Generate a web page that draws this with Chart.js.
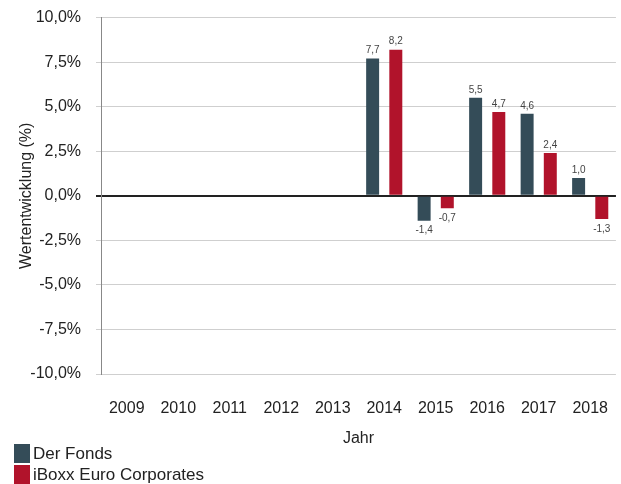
<!DOCTYPE html>
<html>
<head>
<meta charset="utf-8">
<script src="https://cdn.jsdelivr.net/npm/chart.js@4.4.1/dist/chart.umd.min.js"></script>
<style>
  body { margin: 0; background: #fff; font-family: "Liberation Sans", Arial, sans-serif; overflow: hidden; }
  #wrap { position: absolute; left: 0; top: -7px; width: 625px; height: 458px; }
  #legende { position: absolute; left: 14px; top: 443px; font-size: 17px; color: #222; }
  .eintrag { display: flex; align-items: center; height: 21px; }
  .kasten { width: 16px; height: 19px; margin-right: 3px; }
</style>
</head>
<body>
<div id="wrap"><canvas id="grafico"></canvas></div>
<div id="legende">
  <div class="eintrag"><span class="kasten" style="background:#344c58"></span>Der Fonds</div>
  <div class="eintrag"><span class="kasten" style="background:#b1132b"></span>iBoxx Euro Corporates</div>
</div>
<script>
// --- DATEN ---
const jahre = ['2009', '2010', '2011', '2012', '2013', '2014', '2015', '2016', '2017', '2018'];
const werteFonds = [null, null, null, null, null, 7.7, -1.4, 5.5, 4.6, 1.0];
const werteIboxx = [null, null, null, null, null, 8.2, -0.7, 4.7, 2.4, -1.3];
const yTicks = [-10, -7.5, -5, -2.5, 0, 2.5, 5, 7.5, 10];

const formatDE = (v, d) => v.toFixed(d).replace('.', ',');

// Werte über/unter den Balken schreiben
const wertLabels = {
    id: 'wertLabels',
    afterDatasetsDraw(chart) {
        const ctx = chart.ctx;
        ctx.save();
        ctx.font = '10px "Liberation Sans", Arial, sans-serif';
        ctx.fillStyle = '#444';
        ctx.textAlign = 'center';
        chart.data.datasets.forEach((ds, i) => {
            chart.getDatasetMeta(i).data.forEach((bar, j) => {
                const v = ds.data[j];
                if (v === null) return;
                if (v >= 0) {
                    ctx.textBaseline = 'bottom';
                    ctx.fillText(formatDE(v, 1), bar.x, bar.y - 3);
                } else {
                    ctx.textBaseline = 'top';
                    ctx.fillText(formatDE(v, 1), bar.x, bar.y + 5);
                }
            });
        });
        ctx.restore();
    }
};

const schrift = { size: 16, family: '"Liberation Sans", Arial' };

const ctx = document.getElementById('grafico').getContext('2d');
new Chart(ctx, {
    type: 'bar',
    data: {
        labels: jahre,
        datasets: [
            { label: 'Der Fonds', data: werteFonds, backgroundColor: '#344c58' },
            { label: 'iBoxx Euro Corporates', data: werteIboxx, backgroundColor: '#b1132b' }
        ]
    },
    options: {
        responsive: true,
        maintainAspectRatio: false,
        animation: false,
        categoryPercentage: 0.9,
        barPercentage: 0.56,
        layout: { padding: { top: 3, right: 0, left: 0, bottom: 0 } },
        plugins: {
            legend: { display: false },
            tooltip: { enabled: false }
        },
        scales: {
            x: {
                grid: { display: false },
                border: { display: false },
                ticks: { color: '#222', font: schrift, padding: 17 },
                title: { display: true, text: 'Jahr', color: '#222', font: schrift, padding: { top: 0, bottom: 3 } },
                afterFit: (axis) => { axis.height = 77; }
            },
            y: {
                min: -10,
                max: 10,
                afterBuildTicks: (axis) => { axis.ticks = yTicks.map(v => ({ value: v })); },
                grid: {
                    color: (c) => c.tick && c.tick.value === 0 ? '#222' : '#cfcfcf',
                    lineWidth: (c) => c.tick && c.tick.value === 0 ? 2 : 1,
                    tickLength: 5
                },
                border: { display: true, color: '#888', width: 1 },
                ticks: {
                    color: '#222',
                    padding: 15,
                    font: schrift,
                    callback: (v) => formatDE(v, 1) + '%'
                },
                title: { display: true, text: 'Wertentwicklung (%)', color: '#222', font: schrift, padding: { top: 17, bottom: 0 } },
                afterFit: (axis) => { axis.width = 101; }
            }
        }
    },
    plugins: [wertLabels]
});
</script>
</body>
</html>
